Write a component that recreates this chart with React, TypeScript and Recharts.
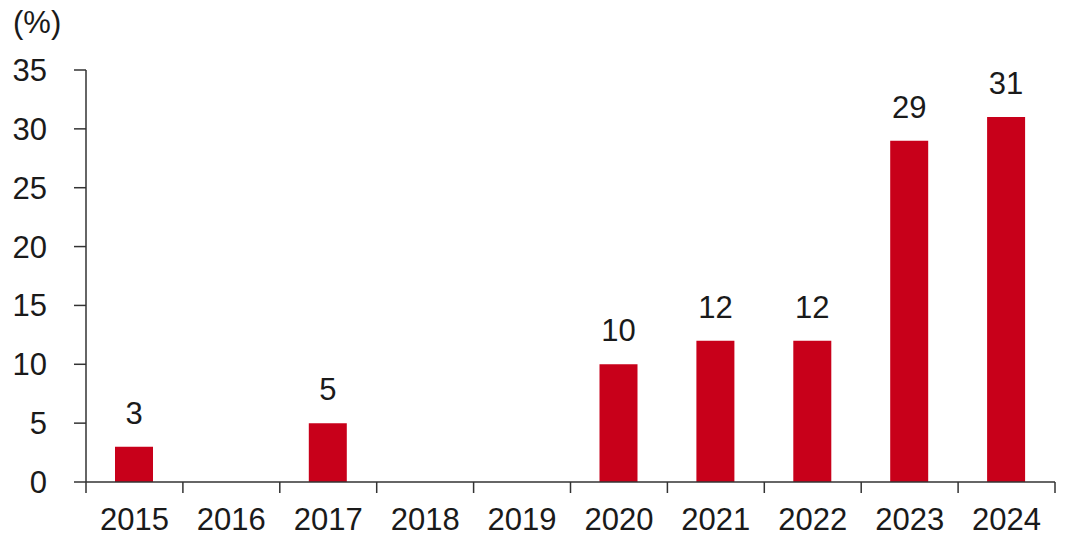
import { BarChart, Bar, XAxis, YAxis, LabelList } from "recharts";

const years = ["2015", "2016", "2017", "2018", "2019", "2020", "2021", "2022", "2023", "2024"];
const shares: (number | null)[] = [3, null, 5, null, null, 10, 12, 12, 29, 31];
const yTicks = [0, 5, 10, 15, 20, 25, 30, 35];

const data = years.map((year, i) => ({ year, value: shares[i] }));

const FONT = "'Liberation Sans', Arial, sans-serif";
const RED = "#C8001A";
const AXIS = "#333333";
const TEXT = "#1a1a1a";

// category label plus a tick mark on the left edge of each band (and the right edge of the last)
function YearTick(props: any) {
  const { x, y, payload, index, visibleTicksCount } = props;
  const half = payload?.offset ?? 48.45;
  const last = index === visibleTicksCount - 1;
  return (
    <g>
      <line x1={x - half} x2={x - half} y1={y} y2={y + 11} stroke={AXIS} strokeWidth={1.5} />
      {last && <line x1={x + half} x2={x + half} y1={y} y2={y + 11} stroke={AXIS} strokeWidth={1.5} />}
      <text x={x} y={y + 26} dy="0.71em" textAnchor="middle" fontFamily={FONT} fontSize={31} fill={TEXT}>
        {payload.value}
      </text>
    </g>
  );
}

export default function App() {
  return (
    <div style={{ position: "absolute", left: 0, top: 0, width: 1070, height: 543, background: "#fff" }}>
      <svg width={120} height={50} style={{ position: "absolute", left: 0, top: 0 }}>
        <text x={13} y={33} fontFamily={FONT} fontSize={31} fill={TEXT}>
          (%)
        </text>
      </svg>
      <BarChart
        width={1070}
        height={543}
        data={data}
        margin={{ top: 70, right: 15, left: 0, bottom: 0 }}
        barCategoryGap={0}
      >
        <XAxis
          dataKey="year"
          axisLine={{ stroke: AXIS, strokeWidth: 1.5 }}
          tickLine={false}
          tickSize={0}
          tickMargin={0}
          height={61}
          interval={0}
          tick={<YearTick />}
        />
        <YAxis
          domain={[0, 35]}
          ticks={yTicks}
          width={86}
          tickSize={12}
          tickMargin={27}
          axisLine={{ stroke: AXIS, strokeWidth: 1.5 }}
          tickLine={{ stroke: AXIS, strokeWidth: 1.5 }}
          tick={{ fontFamily: FONT, fontSize: 31, fill: TEXT }}
          interval={0}
        />
        <Bar dataKey="value" fill={RED} barSize={38} isAnimationActive={false}>
          <LabelList
            dataKey="value"
            position="top"
            offset={23}
            style={{ fontFamily: FONT, fontSize: 31, fill: TEXT }}
          />
        </Bar>
      </BarChart>
    </div>
  );
}
